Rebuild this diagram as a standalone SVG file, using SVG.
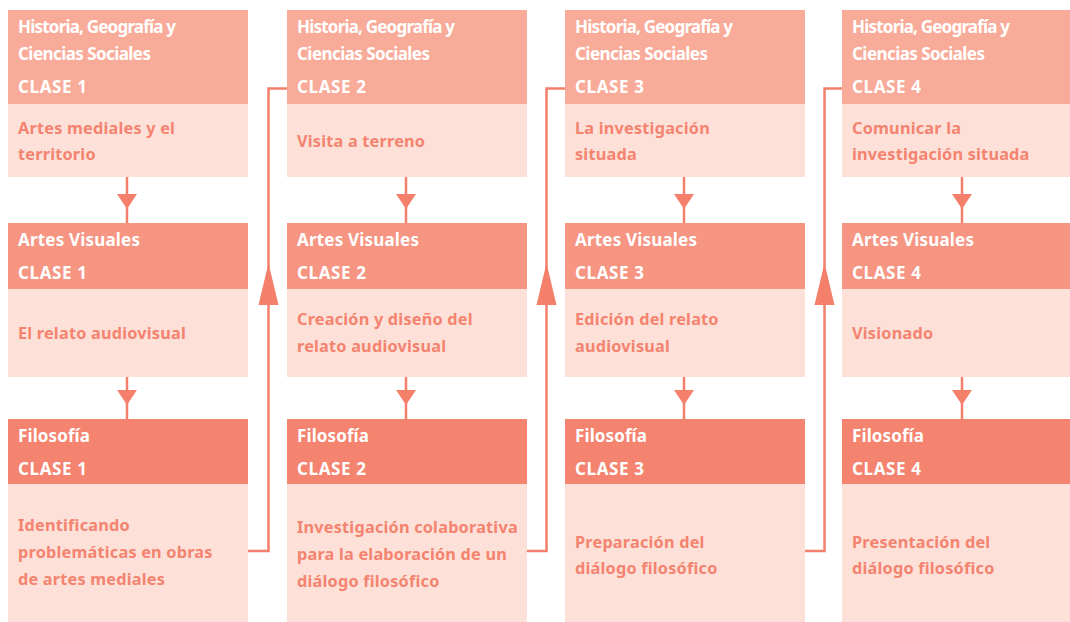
<svg xmlns="http://www.w3.org/2000/svg" width="1070" height="622" viewBox="0 0 1070 622">
<style>
.h1{fill:#f9ab99}.h2{fill:#f69582}.h3{fill:#f4836f}.bd{fill:#fde1d9}
.ht{font-family:"Noto Sans","Liberation Sans",sans-serif;font-weight:700;font-size:17px;fill:#ffffff}
.bt{font-family:"Noto Sans","Liberation Sans",sans-serif;font-weight:700;font-size:16.3px;fill:#f4836f;letter-spacing:0.2px}
.ln{fill:none;stroke:#f4806c;stroke-width:2.5}
.ah{fill:#f4806c}
</style>
<rect width="1070" height="622" fill="#ffffff"/>
<g id="hist1"><rect class="h1" x="8" y="10" width="240" height="94"/><rect class="bd" x="8" y="104" width="240" height="73"/>
<text class="ht" x="18" y="33" textLength="158">Historia, Geografía y</text><text class="ht" x="18" y="60" textLength="133">Ciencias Sociales</text><text class="ht" x="18" y="93" textLength="69">CLASE 1</text>
<text class="bt" x="18" y="134">Artes mediales y el</text><text class="bt" x="18" y="160">territorio</text></g>
<g id="hist2"><rect class="h1" x="287" y="10" width="240" height="94"/><rect class="bd" x="287" y="104" width="240" height="73"/>
<text class="ht" x="297" y="33" textLength="158">Historia, Geografía y</text><text class="ht" x="297" y="60" textLength="133">Ciencias Sociales</text><text class="ht" x="297" y="93" textLength="69">CLASE 2</text>
<text class="bt" x="297" y="147">Visita a terreno</text></g>
<g id="hist3"><rect class="h1" x="565" y="10" width="240" height="94"/><rect class="bd" x="565" y="104" width="240" height="73"/>
<text class="ht" x="575" y="33" textLength="158">Historia, Geografía y</text><text class="ht" x="575" y="60" textLength="133">Ciencias Sociales</text><text class="ht" x="575" y="93" textLength="69">CLASE 3</text>
<text class="bt" x="575" y="134">La investigación</text><text class="bt" x="575" y="160">situada</text></g>
<g id="hist4"><rect class="h1" x="842" y="10" width="240" height="94"/><rect class="bd" x="842" y="104" width="240" height="73"/>
<text class="ht" x="852" y="33" textLength="158">Historia, Geografía y</text><text class="ht" x="852" y="60" textLength="133">Ciencias Sociales</text><text class="ht" x="852" y="93" textLength="69">CLASE 4</text>
<text class="bt" x="852" y="134">Comunicar la</text><text class="bt" x="852" y="160">investigación situada</text></g>

<g id="artes1"><rect class="h2" x="8" y="223" width="240" height="66"/><rect class="bd" x="8" y="289" width="240" height="88"/>
<text class="ht" x="18" y="246" textLength="122">Artes Visuales</text><text class="ht" x="18" y="279" textLength="69">CLASE 1</text>
<text class="bt" x="18" y="339">El relato audiovisual</text></g>
<g id="artes2"><rect class="h2" x="287" y="223" width="240" height="66"/><rect class="bd" x="287" y="289" width="240" height="88"/>
<text class="ht" x="297" y="246" textLength="122">Artes Visuales</text><text class="ht" x="297" y="279" textLength="69">CLASE 2</text>
<text class="bt" x="297" y="325">Creación y diseño del</text><text class="bt" x="297" y="352">relato audiovisual</text></g>
<g id="artes3"><rect class="h2" x="565" y="223" width="240" height="66"/><rect class="bd" x="565" y="289" width="240" height="88"/>
<text class="ht" x="575" y="246" textLength="122">Artes Visuales</text><text class="ht" x="575" y="279" textLength="69">CLASE 3</text>
<text class="bt" x="575" y="325">Edición del relato</text><text class="bt" x="575" y="352">audiovisual</text></g>
<g id="artes4"><rect class="h2" x="842" y="223" width="240" height="66"/><rect class="bd" x="842" y="289" width="240" height="88"/>
<text class="ht" x="852" y="246" textLength="122">Artes Visuales</text><text class="ht" x="852" y="279" textLength="69">CLASE 4</text>
<text class="bt" x="852" y="339">Visionado</text></g>

<g id="filo1"><rect class="h3" x="8" y="419" width="240" height="65"/><rect class="bd" x="8" y="484" width="240" height="138"/>
<text class="ht" x="18" y="442" textLength="72">Filosofía</text><text class="ht" x="18" y="475" textLength="69">CLASE 1</text>
<text class="bt" x="18" y="531">Identificando</text><text class="bt" x="18" y="558">problemáticas en obras</text><text class="bt" x="18" y="585">de artes mediales</text></g>
<g id="filo2"><rect class="h3" x="287" y="419" width="240" height="65"/><rect class="bd" x="287" y="484" width="240" height="138"/>
<text class="ht" x="297" y="442" textLength="72">Filosofía</text><text class="ht" x="297" y="475" textLength="69">CLASE 2</text>
<text class="bt" x="297" y="533">Investigación colaborativa</text><text class="bt" x="297" y="560">para la elaboración de un</text><text class="bt" x="297" y="587">diálogo filosófico</text></g>
<g id="filo3"><rect class="h3" x="565" y="419" width="240" height="65"/><rect class="bd" x="565" y="484" width="240" height="138"/>
<text class="ht" x="575" y="442" textLength="72">Filosofía</text><text class="ht" x="575" y="475" textLength="69">CLASE 3</text>
<text class="bt" x="575" y="548">Preparación del</text><text class="bt" x="575" y="574">diálogo filosófico</text></g>
<g id="filo4"><rect class="h3" x="842" y="419" width="240" height="65"/><rect class="bd" x="842" y="484" width="240" height="138"/>
<text class="ht" x="852" y="442" textLength="72">Filosofía</text><text class="ht" x="852" y="475" textLength="69">CLASE 4</text>
<text class="bt" x="852" y="548">Presentación del</text><text class="bt" x="852" y="574">diálogo filosófico</text></g>

<g id="connectors">
<path class="ln" d="M127 177V223M406 177V223M684 177V223M962 177V223"/>
<path class="ln" d="M127 377V419M406 377V419M684 377V419M962 377V419"/>
<path class="ah" d="M117 194H137L127 209ZM396 194H416L406 209ZM674 194H694L684 209ZM952 194H972L962 209Z"/>
<path class="ah" d="M117 390H137L127 405ZM396 390H416L406 405ZM674 390H694L684 405ZM952 390H972L962 405Z"/>
<path class="ln" d="M248 551H268.5V88.5H287M527 551H546.5V88.5H565M805 551H824.5V88.5H842"/>
<path class="ah" d="M258.5 305H278.5L268.5 263ZM536.5 305H556.5L546.5 263ZM814.5 305H834.5L824.5 263Z"/>
</g>
</svg>
